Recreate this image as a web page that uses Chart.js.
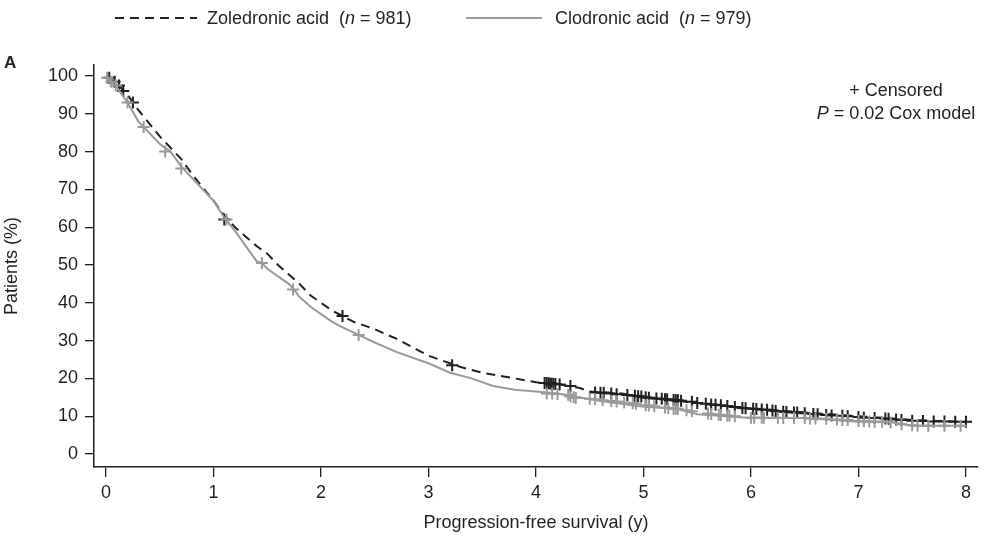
<!DOCTYPE html>
<html>
<head>
<meta charset="utf-8">
<script src="https://cdn.jsdelivr.net/npm/chart.js@4.4.1/dist/chart.umd.min.js"></script>
<style>
  html, body { margin: 0; padding: 0; background: #fff; }
  #wrap { position: relative; width: 992px; height: 540px; font-family: "Liberation Sans", Arial, sans-serif; color: #231f20; }
  #wrap canvas { position: absolute; left: 0; top: 0; }
  .txt { position: absolute; font-size: 18px; white-space: pre; line-height: 1; }
  .lbl { position: absolute; }
</style>
</head>
<body>
<div id="wrap">
  <canvas id="c" width="992" height="540"></canvas>
  <svg class="lbl" style="left:0;top:0" width="992" height="40">
    <line x1="115" y1="18" x2="197" y2="18" stroke="#231f20" stroke-width="2" stroke-dasharray="9,6"></line>
    <line x1="466" y1="18" x2="542" y2="18" stroke="#999999" stroke-width="2"></line>
  </svg>
  <div class="txt" style="left:207px;top:9px;">Zoledronic acid  (<i>n</i> = 981)</div>
  <div class="txt" style="left:555px;top:9px;">Clodronic acid  (<i>n</i> = 979)</div>
  <div class="txt" style="left:4px;top:54px;font-size:17px;font-weight:bold;">A</div>
  <div class="txt" style="left:796px;top:81px;width:200px;text-align:center;">+ Censored</div>
  <div class="txt" style="left:796px;top:104px;width:200px;text-align:center;"><i>P</i> = 0.02 Cox model</div>
</div>
<script>
// ---- Data ----
const xTicks = [0, 1, 2, 3, 4, 5, 6, 7, 8];
const yTicks = [0, 10, 20, 30, 40, 50, 60, 70, 80, 90, 100];

const zolTime = [0, 0.05, 0.1, 0.15, 0.2, 0.25, 0.3, 0.4, 0.5, 0.6, 0.7, 0.8, 0.9, 1.0, 1.1, 1.2, 1.3, 1.4, 1.5, 1.6, 1.7, 1.8, 1.9, 2.0, 2.1, 2.2, 2.3, 2.5, 2.7, 2.9, 3.0, 3.2, 3.3, 3.5, 3.7, 3.9, 4.0, 4.2, 4.4, 4.5, 4.8, 5.0, 5.5, 6.0, 6.5, 7.0, 7.5, 8.0];
const zolPct  = [100, 99, 98, 96.5, 95, 93, 91, 87.5, 84, 81, 78, 74, 70.5, 67, 63, 60, 57.5, 55, 53, 50, 47.5, 45, 42, 40, 38, 36.5, 35, 33, 30.5, 27.5, 26, 24, 23, 21.5, 20.5, 19.5, 19, 18.5, 17.5, 16.5, 16, 15, 13.5, 12, 11, 10, 9, 8.5];

const cloTime = [0, 0.05, 0.1, 0.15, 0.2, 0.3, 0.35, 0.5, 0.6, 0.7, 0.8, 0.9, 1.0, 1.1, 1.2, 1.3, 1.4, 1.45, 1.5, 1.6, 1.7, 1.75, 1.8, 1.9, 2.0, 2.1, 2.2, 2.35, 2.5, 2.7, 2.9, 3.0, 3.2, 3.4, 3.6, 3.8, 4.0, 4.2, 4.4, 4.6, 5.0, 5.3, 5.5, 6.0, 6.5, 7.0, 7.3, 7.5, 8.0];
const cloPct  = [100, 98.5, 97, 95, 93, 88, 86.5, 82, 80, 76, 73, 70, 67, 62.5, 59, 55, 51, 50.5, 49, 47, 45, 43.5, 41.5, 39, 37, 35, 33.5, 31.5, 29.5, 27, 25, 24, 21.5, 20, 18, 17, 16.5, 16, 15, 14, 12.5, 12, 10.5, 9.5, 9.5, 8.5, 8.5, 7.5, 7.5];

const zolCensTime = [0.03, 0.08, 0.12, 0.16, 0.25, 1.1, 2.2, 3.22, 4.08, 4.1, 4.12, 4.14, 4.16, 4.18, 4.22, 4.32, 4.55, 4.6, 4.63, 4.7, 4.75, 4.85, 4.92, 4.95, 4.98, 5.02, 5.05, 5.12, 5.17, 5.2, 5.22, 5.28, 5.3, 5.32, 5.35, 5.45, 5.5, 5.58, 5.63, 5.67, 5.72, 5.78, 5.85, 5.92, 5.95, 6.02, 6.05, 6.1, 6.15, 6.2, 6.23, 6.3, 6.33, 6.4, 6.43, 6.5, 6.58, 6.62, 6.7, 6.75, 6.85, 6.9, 7.0, 7.05, 7.15, 7.25, 7.28, 7.35, 7.4, 7.5, 7.6, 7.7, 7.8, 7.9, 8.0];
const zolCensPct  = [99.5, 98.5, 97.5, 96, 93, 62, 36.5, 23.5, 18.8, 18.8, 18.7, 18.6, 18.6, 18.5, 18.4, 18, 16.3, 16.2, 16.2, 16, 15.8, 15.6, 15.4, 15.3, 15.2, 15, 14.9, 14.7, 14.6, 14.5, 14.5, 14.3, 14.2, 14.2, 14.1, 13.8, 13.5, 13.3, 13.1, 13, 12.9, 12.7, 12.4, 12.2, 12.1, 12, 11.9, 11.8, 11.7, 11.5, 11.4, 11.2, 11.1, 11, 11, 10.8, 10.6, 10.5, 10.3, 10.2, 10.1, 10, 9.8, 9.6, 9.5, 9.4, 9.3, 9.1, 9, 8.8, 8.7, 8.6, 8.6, 8.5, 8.5];

const cloCensTime = [0.01, 0.05, 0.09, 0.2, 0.35, 0.55, 0.7, 1.12, 1.45, 1.74, 2.35, 4.1, 4.15, 4.2, 4.3, 4.32, 4.35, 4.37, 4.5, 4.55, 4.62, 4.7, 4.75, 4.82, 4.9, 4.93, 5.02, 5.05, 5.1, 5.2, 5.23, 5.28, 5.3, 5.32, 5.4, 5.45, 5.6, 5.63, 5.7, 5.72, 5.78, 5.8, 5.85, 6.0, 6.03, 6.1, 6.12, 6.25, 6.3, 6.4, 6.5, 6.55, 6.6, 6.7, 6.8, 6.85, 6.9, 7.0, 7.05, 7.1, 7.15, 7.22, 7.3, 7.4, 7.5, 7.55, 7.65, 7.8, 7.95];
const cloCensPct  = [99.5, 98.5, 97.5, 93, 86.5, 80, 75.5, 62, 50.5, 43.5, 31.5, 16, 16, 15.9, 15.7, 15.2, 15, 14.8, 14.6, 14.5, 14.2, 14, 13.9, 13.6, 13.4, 13.3, 12.9, 12.8, 12.6, 12.3, 12.2, 12, 12, 12, 11.6, 11.3, 10.7, 10.6, 10.4, 10.3, 10.1, 10.1, 10, 9.6, 9.6, 9.6, 9.6, 9.6, 9.5, 9.5, 9.5, 9.4, 9.4, 9.3, 9.1, 9, 9, 8.7, 8.7, 8.6, 8.5, 8.5, 8.3, 7.9, 7.6, 7.5, 7.5, 7.5, 7.5];

// ---- Build chart ----
const pts = (xs, ys) => xs.map((x, i) => ({ x: x, y: ys[i] }));
const INK = '#231f20';
const GRAY = '#9a9a9a';
const FONT = { family: '"Liberation Sans", Arial, sans-serif', size: 18 };

new Chart(document.getElementById('c'), {
  type: 'line',
  data: {
    datasets: [
      { label: 'Clodronic acid', data: pts(cloTime, cloPct), borderColor: GRAY, borderWidth: 2, pointRadius: 0, fill: false, tension: 0 },
      { label: 'Clodronic censored', data: pts(cloCensTime, cloCensPct), showLine: false, pointStyle: 'cross', pointRadius: 6, pointBorderWidth: 2, pointBorderColor: GRAY, borderColor: GRAY },
      { label: 'Zoledronic acid', data: pts(zolTime, zolPct), borderColor: INK, borderWidth: 2, borderDash: [9, 6], pointRadius: 0, fill: false, tension: 0 },
      { label: 'Zoledronic censored', data: pts(zolCensTime, zolCensPct), showLine: false, pointStyle: 'cross', pointRadius: 6, pointBorderWidth: 2, pointBorderColor: INK, borderColor: INK }
    ]
  },
  options: {
    responsive: false,
    animation: false,
    devicePixelRatio: 1,
    layout: { padding: { left: 0, right: 14, top: 65, bottom: 0 } },
    plugins: { legend: { display: false }, tooltip: { enabled: false } },
    scales: {
      x: {
        type: 'linear',
        min: -0.112, max: 8.112,
        afterBuildTicks: s => { s.ticks = xTicks.map(v => ({ value: v })); },
        afterFit: s => { s.height = 73; },
        grid: { display: true, drawOnChartArea: false, drawTicks: true, tickLength: 10, color: INK, lineWidth: 1.3 },
        border: { display: true, color: INK, width: 1.5 },
        ticks: { color: INK, font: FONT, padding: 5, maxRotation: 0 },
        title: { display: true, text: 'Progression-free survival (y)', color: INK, font: FONT, padding: { top: 4, bottom: 6 } }
      },
      y: {
        type: 'linear',
        min: -3.44, max: 102.9,
        afterBuildTicks: s => { s.ticks = yTicks.map(v => ({ value: v })); },
        afterFit: s => { s.width = 94; },
        grid: { display: true, drawOnChartArea: false, drawTicks: true, tickLength: 9, color: INK, lineWidth: 1.3 },
        border: { display: true, color: INK, width: 1.5 },
        ticks: { color: INK, font: FONT, padding: 7 },
        title: { display: true, text: 'Patients (%)', color: INK, font: FONT, padding: { top: 1, bottom: 0 } }
      }
    }
  }
});
</script>
</body>
</html>
